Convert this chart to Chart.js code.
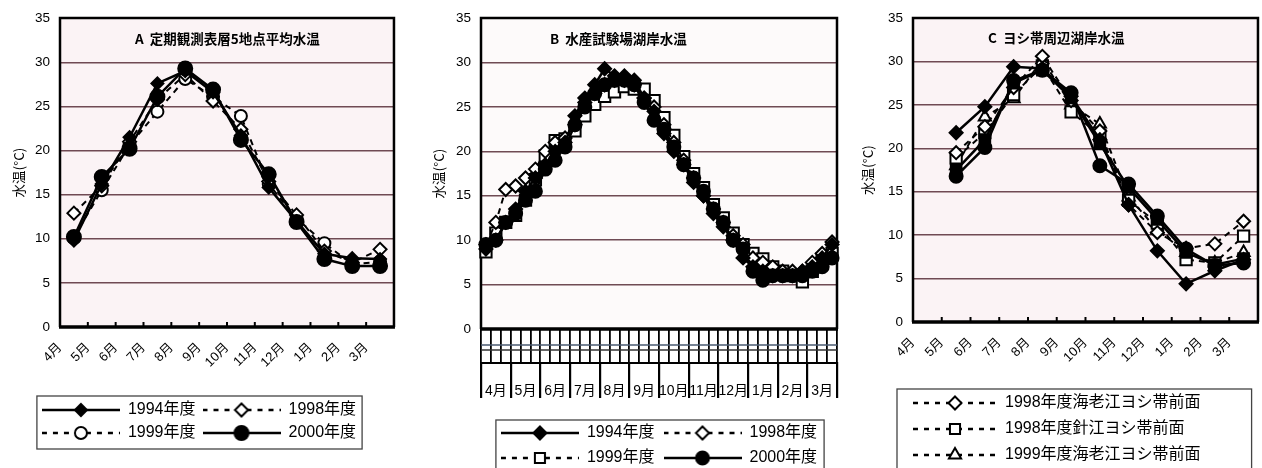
<!DOCTYPE html>
<html><head><meta charset="utf-8">
<script src="https://cdn.jsdelivr.net/npm/chart.js@4.4.1/dist/chart.umd.min.js"></script>
<style>
html,body{margin:0;padding:0;background:#fff;overflow:hidden;width:1262px;height:468px;position:relative}
.wrap{position:absolute;top:0;overflow:hidden}
canvas{display:block}
</style></head><body>
<div class="wrap" style="left:0;width:410px;height:468px"><canvas id="cA" width="410" height="468"></canvas></div>
<div class="wrap" style="left:420px;width:430px;height:468px"><canvas id="cB" width="430" height="480"></canvas></div>
<div class="wrap" style="left:860px;width:402px;height:468px"><canvas id="cC" width="414" height="560"></canvas></div>
<script>
// ---------- data ----------
const monthLabels = ['4月','5月','6月','7月','8月','9月','10月','11月','12月','1月','2月','3月'];
const junSuffix = ['上旬','中旬','下旬'];
const yTitle = '水温(°C)';
const titleA = 'A  定期観測表層5地点平均水温';
const titleB = 'B  水産試験場湖岸水温';
const titleC = 'C  ヨシ帯周辺湖岸水温';

const seriesAB = ['1994年度','1998年度','1999年度','2000年度'];
const a1994 = [9.8, 16.2, 21.5, 27.6, 29.0, 26.6, 21.7, 15.8, 12.0, 8.3, 7.8, 7.7];
const a1998 = [12.9, 16.0, 21.0, 25.8, 28.6, 25.6, 22.4, 16.5, 12.7, 8.6, 7.3, 8.8];
const a1999 = [10.2, 15.5, 20.6, 24.4, 28.1, 26.1, 23.9, 16.2, 12.3, 9.5, 7.1, 7.4];
const a2000 = [10.2, 17.0, 20.2, 26.1, 29.3, 26.9, 21.2, 17.3, 11.9, 7.7, 6.9, 6.9];

const b1994 = [9.0,10.0,12.0,13.5,15.5,17.0,18.5,20.0,21.0,24.0,26.0,27.5,29.3,28.5,28.5,28.0,26.0,24.5,22.0,20.0,18.5,16.5,15.0,13.0,11.5,10.0,8.0,7.0,6.5,6.0,6.0,6.0,6.5,7.0,8.0,9.5];
const b1998 = [9.5,12.0,15.7,16.1,17.0,18.0,20.0,21.0,21.5,23.0,25.5,26.5,27.5,28.0,28.0,27.5,26.0,25.0,23.0,21.0,19.0,17.0,15.0,13.5,12.0,10.5,9.5,8.0,7.5,7.0,6.5,6.5,6.5,7.5,8.5,9.8];
const b1999 = [8.7,10.8,12.0,12.8,14.5,16.8,19.5,21.2,21.4,22.3,24.0,25.3,26.2,26.7,27.3,27.0,27.0,25.7,23.8,21.8,19.4,17.5,15.9,14.0,12.5,10.8,9.5,8.5,7.9,7.0,6.5,6.0,5.3,6.5,7.9,8.5];
const b2000 = [9.5,10.0,12.0,13.0,14.5,15.5,18.0,19.0,20.5,23.0,25.0,26.5,27.5,28.0,28.0,27.5,25.5,23.5,22.5,20.5,18.5,17.0,15.5,13.5,12.0,10.0,9.0,6.5,5.5,6.0,6.0,6.0,6.0,6.5,7.0,8.0];

const seriesC = ['1998年度海老江ヨシ帯前面','1998年度針江ヨシ帯前面','1999年度海老江ヨシ帯前面','1999年度針江ヨシ帯前面','2000年度海老江ヨシ帯前面','2000年度針江ヨシ帯前面'];
const c1998Ebie  = [null, 19.5, 22.5, 27.0, 30.6, 25.5, 22.0, 13.5, 10.3, 8.5, 9.0, 11.6];
const c1998Harie = [null, 18.9, 21.8, 26.2, 29.5, 24.2, 21.5, 14.0, 11.4, 7.2, 6.8, 9.9];
const c1999Ebie  = [null, 18.0, 23.6, 25.7, 30.2, 25.0, 22.8, 14.4, 10.6, 8.0, 6.8, 8.0];
const c1999Harie = [null, 17.5, 21.0, 27.5, 29.0, 25.8, 20.5, 15.5, 11.8, 8.0, 6.6, 7.3];
const c2000Ebie  = [null, 21.8, 24.8, 29.4, 29.2, 26.0, 21.0, 13.5, 8.2, 4.4, 5.9, 7.2];
const c2000Harie = [null, 16.8, 20.1, 27.8, 29.0, 26.4, 18.0, 15.9, 12.2, 8.4, 6.5, 6.8];

// ---------- helpers ----------
const FONT = "'Liberation Sans', Arial, 'Noto Sans CJK JP', sans-serif";
const CJK = "'Noto Sans CJK JP', 'Liberation Sans', sans-serif";
Chart.defaults.font.family = FONT;
Chart.defaults.color = '#000';
Chart.defaults.animation = false;

const junLabels = [];
monthLabels.forEach(m => junSuffix.forEach(j => junLabels.push(m + j)));

function toXY(vals) {
  return vals.map((v, i) => v == null ? null : {x: i + 0.5, y: v}).filter(p => p);
}

function drawMarker(g, x, y, shape, filled, r) {
  g.save();
  g.lineWidth = 2;
  g.strokeStyle = '#000';
  g.fillStyle = filled ? '#000' : '#fff';
  g.beginPath();
  if (shape === 'circle') g.arc(x, y, r, 0, Math.PI * 2);
  else if (shape === 'rectRot') { g.moveTo(x, y - r); g.lineTo(x + r, y); g.lineTo(x, y + r); g.lineTo(x - r, y); g.closePath(); }
  else if (shape === 'rect') { const s = r * 0.72; g.rect(x - s, y - s, 2 * s, 2 * s); }
  else if (shape === 'triangle') { g.moveTo(x, y - r); g.lineTo(x + r * 0.87, y + r * 0.5); g.lineTo(x - r * 0.87, y + r * 0.5); g.closePath(); }
  g.fill(); g.stroke();
  g.restore();
}

function legendSymbol(w, dashed, shape, filled, r) {
  const c = document.createElement('canvas');
  c.width = w; c.height = 18;
  const g = c.getContext('2d');
  g.strokeStyle = '#000';
  g.lineWidth = dashed ? 2.4 : 2.5;
  if (dashed) g.setLineDash([5, 6]);
  g.beginPath(); g.moveTo(0, 9); g.lineTo(w, 9); g.stroke();
  g.setLineDash([]);
  drawMarker(g, w / 2, 9, shape, filled, Math.min(r, 7));
  return c;
}

function ds(label, data, dashed, shape, filled, r, order) {
  return {
    label, data, order,
    borderColor: '#000', borderWidth: dashed ? 2 : 2.5, borderDash: dashed ? [6, 5] : [],
    pointStyle: shape, pointRadius: r, pointBorderWidth: 2,
    pointBackgroundColor: filled ? '#000' : '#fff', pointBorderColor: '#000',
    tension: 0, fill: false, clip: false,
    _dashed: dashed, _filled: filled
  };
}

function legendLabels(symW) {
  return chart => chart.data.datasets.map((d, i) => ({
    text: d.label, datasetIndex: i, hidden: false,
    pointStyle: legendSymbol(symW, d._dashed, d.pointStyle, d._filled, d.pointRadius),
    fillStyle: 'rgba(0,0,0,0)', strokeStyle: 'rgba(0,0,0,0)', lineWidth: 0, fontColor: '#000'
  }));
}

// ---------- plugins ----------
const framePlugin = {
  id: 'frame',
  beforeDraw(chart, args, o) {
    const a = chart.chartArea, ctx = chart.ctx;
    ctx.save(); ctx.fillStyle = o.bg; ctx.fillRect(a.left, a.top, a.right - a.left, a.bottom - a.top); ctx.restore();
  },
  beforeDatasetsDraw(chart, args, o) {
    const a = chart.chartArea, ctx = chart.ctx;
    ctx.save();
    ctx.strokeStyle = '#000';
    ctx.lineWidth = 2.5;
    ctx.beginPath();
    ctx.moveTo(a.left, a.bottom); ctx.lineTo(a.left, a.top); ctx.lineTo(a.right, a.top); ctx.lineTo(a.right, a.bottom);
    ctx.stroke();
    ctx.lineWidth = 3.5;
    ctx.beginPath(); ctx.moveTo(a.left - 1, a.bottom); ctx.lineTo(a.right + 1, a.bottom); ctx.stroke();
    if (o.innerTicks) {
      const sx = chart.scales.x;
      ctx.lineWidth = 2;
      for (let i = 1; i < 12; i++) {
        const px = sx.getPixelForValue(i);
        ctx.beginPath(); ctx.moveTo(px, a.bottom); ctx.lineTo(px, a.bottom - 5); ctx.stroke();
      }
    }
    if (o.text) {
      ctx.fillStyle = '#000';
      ctx.font = "bold 13.5px " + CJK;
      ctx.textAlign = 'left'; ctx.textBaseline = 'middle';
      ctx.fillText(o.text, a.left + o.tx, a.top + o.ty);
    }
    ctx.restore();
  },
  afterDraw(chart, args, o) {
    const ctx = chart.ctx, a = chart.chartArea;
    if (o.hLines) {
      ctx.save();
      o.hLines.forEach(h => {
        ctx.strokeStyle = h.c; ctx.lineWidth = h.w;
        ctx.beginPath(); ctx.moveTo(a.left, a.bottom + h.dy); ctx.lineTo(a.right, a.bottom + h.dy); ctx.stroke();
      });
      ctx.restore();
    }
    const lg = chart.legend;
    if (lg && lg.legendHitBoxes && lg.legendHitBoxes.length && o.box) {
      let l = Infinity, t = Infinity, r = -Infinity, b = -Infinity;
      lg.legendHitBoxes.forEach(h => {
        l = Math.min(l, h.left); t = Math.min(t, h.top);
        r = Math.max(r, h.left + h.width); b = Math.max(b, h.top + h.height);
      });
      const bx = o.box;
      ctx.save(); ctx.strokeStyle = '#444'; ctx.lineWidth = 1.3;
      ctx.strokeRect(l - bx.l, t - bx.t, (r - l) + bx.l + bx.r, (b - t) + bx.t + bx.b);
      ctx.restore();
    }
  }
};

const legendPosPlugin = {
  id: 'legendPos',
  afterLayout(chart, args, o) {
    const lg = chart.legend; if (!lg) return;
    if (o.top != null) { const h = lg.height; lg.top = o.top; lg.bottom = o.top + h; }
    if (o.dx) { lg.left += o.dx; lg.right += o.dx; }
  }
};

const gridColor = 'rgba(95,55,65,0.9)';

function yAxis(width, titlePad) {
  return {
    min: 0, max: 35,
    ticks: {stepSize: 5, padding: 10, font: {size: 13.5}, color: '#000'},
    grid: {color: gridColor, lineWidth: 1.4, drawTicks: false},
    border: {display: false},
    title: {display: true, text: yTitle, font: {size: 13.5, family: CJK}, color: '#000', padding: {top: titlePad, bottom: 0}},
    afterFit: s => { s.width = width; }
  };
}

function monthXAxis() {
  return {
    type: 'linear', min: 0, max: 12,
    ticks: {stepSize: 1, autoSkip: false, minRotation: 45, maxRotation: 45, padding: 5,
      font: {size: 13}, color: '#000',
      callback: v => (Number.isInteger(v) && v < 12) ? monthLabels[v] : ''},
    grid: {display: false},
    border: {display: false},
    afterFit: s => { s.height = 40; }
  };
}

function legendOpts(symW, pad, fullSize, align) {
  return {
    display: true, position: 'bottom', fullSize, align,
    labels: {usePointStyle: true, pointStyleWidth: symW, padding: pad, color: '#000',
      font: {size: 16, family: FONT}, generateLabels: legendLabels(symW)}
  };
}

// ---------- Chart A ----------
new Chart(document.getElementById('cA'), {
  type: 'line',
  data: {datasets: [
    ds(seriesAB[0], toXY(a1994), false, 'rectRot', true, 6, 1),
    ds(seriesAB[1], toXY(a1998), true, 'rectRot', false, 6.5, 2),
    ds(seriesAB[2], toXY(a1999), true, 'circle', false, 6, 3),
    ds(seriesAB[3], toXY(a2000), false, 'circle', true, 7, 0)
  ]},
  options: {
    responsive: false, animation: false,
    layout: {padding: {left: 0, right: 12, top: 12, bottom: 45}},
    scales: {x: monthXAxis(), y: yAxis(60, 11)},
    plugins: {
      legend: legendOpts(78, 7, true, 'center'),
      tooltip: {enabled: false},
      frame: {bg: '#fbf3f5', innerTicks: true, text: titleA, tx: 75, ty: 21, box: {l: 5, r: 6, t: 6, b: 8}},
      legendPos: {top: 395, dx: 0}
    }
  },
  plugins: [framePlugin, legendPosPlugin]
});

// ---------- Chart B ----------
new Chart(document.getElementById('cB'), {
  type: 'line',
  data: {labels: junLabels, datasets: [
    ds(seriesAB[0], b1994, false, 'rectRot', true, 6.5, 1),
    ds(seriesAB[1], b1998, true, 'rectRot', false, 6.5, 2),
    ds(seriesAB[2], b1999, true, 'rect', false, 8, 3),
    ds(seriesAB[3], b2000, false, 'circle', true, 6.5, 0)
  ]},
  options: {
    responsive: false, animation: false,
    layout: {padding: {left: 0, right: 13, top: 12, bottom: 22}},
    scales: {
      x: {
        type: 'category', offset: true,
        ticks: {display: false, autoSkip: false},
        grid: {offset: true, drawOnChartArea: false, drawTicks: true, tickLength: 34, color: '#000', lineWidth: 1.8},
        border: {display: false},
        afterFit: s => { s.height = 34; }
      },
      xm: {
        type: 'category', position: 'bottom', labels: monthLabels, offset: true,
        ticks: {autoSkip: false, minRotation: 0, maxRotation: 0, padding: -15, font: {size: 14, family: FONT}, color: '#000'},
        grid: {offset: true, drawOnChartArea: false, drawTicks: true, tickLength: 35, color: '#000', lineWidth: 2.2},
        border: {display: true, color: '#000', width: 2},
        afterFit: s => { s.height = 35; }
      },
      y: yAxis(61, 11)
    },
    plugins: {
      legend: legendOpts(78, 9, false, 'center'),
      tooltip: {enabled: false},
      frame: {bg: '#fdfafa', innerTicks: false, text: titleB, tx: 69, ty: 21,
        hLines: [{dy: 16, w: 1.5, c: '#4a5a70'}, {dy: 21, w: 1.5, c: '#333'}],
        box: {l: 5, r: 7, t: 5, b: 8}},
      legendPos: {top: 416, dx: 0}
    }
  },
  plugins: [framePlugin, legendPosPlugin]
});

// ---------- Chart C ----------
new Chart(document.getElementById('cC'), {
  type: 'line',
  data: {datasets: [
    ds(seriesC[0], toXY(c1998Ebie), true, 'rectRot', false, 6.5, 3),
    ds(seriesC[1], toXY(c1998Harie), true, 'rect', false, 8, 4),
    ds(seriesC[2], toXY(c1999Ebie), true, 'triangle', false, 7, 5),
    ds(seriesC[3], toXY(c1999Harie), false, 'rect', true, 7.5, 2),
    ds(seriesC[4], toXY(c2000Ebie), false, 'rectRot', true, 6.5, 1),
    ds(seriesC[5], toXY(c2000Harie), false, 'circle', true, 6.5, 0)
  ]},
  options: {
    responsive: false, animation: false,
    layout: {padding: {left: 0, right: 13, top: 10, bottom: 32}},
    scales: {x: monthXAxis(), y: yAxis(53, 0)},
    plugins: {
      legend: legendOpts(84, 10, false, 'start'),
      tooltip: {enabled: false},
      frame: {bg: '#fbf3f5', innerTicks: true, text: titleC, tx: 75, ty: 20, box: {l: 16, r: 51, t: 6, b: 8}},
      legendPos: {top: 385, dx: -10}
    }
  },
  plugins: [framePlugin, legendPosPlugin]
});
</script>
</body></html>
